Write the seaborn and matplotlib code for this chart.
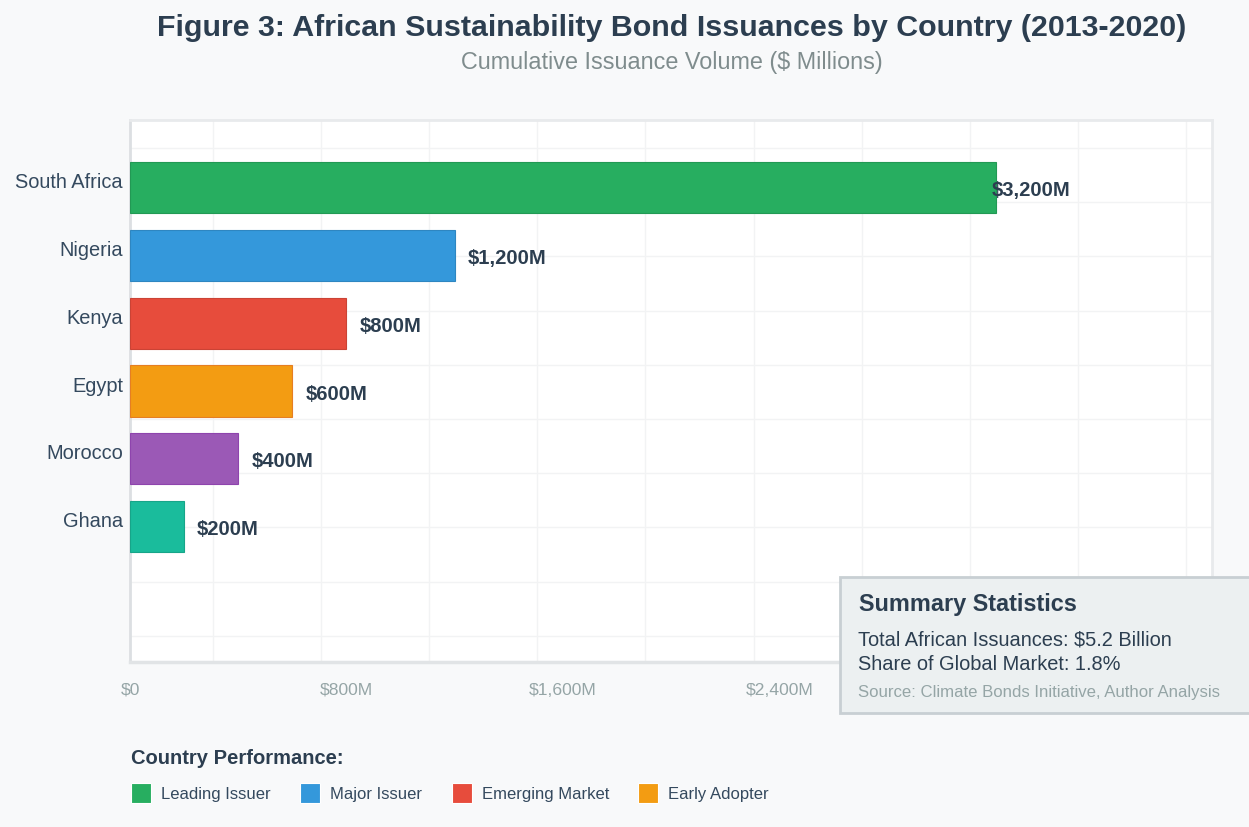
import matplotlib
matplotlib.use("Agg")
import matplotlib.pyplot as plt
import matplotlib.ticker as mticker
import matplotlib.transforms as mtransforms
from matplotlib.patches import Rectangle
import seaborn as sns
import pandas as pd

# ---- data ----
countries = ["South Africa", "Nigeria", "Kenya", "Egypt", "Morocco", "Ghana"]
volumes = [3200, 1200, 800, 600, 400, 200]
colors = ["#27ae60", "#3498db", "#e74c3c", "#f39c12", "#9b59b6", "#1abc9c"]
edge_colors = ["#229954", "#2e86c1", "#cb4335", "#e67e22", "#8e44ad", "#17a589"]
x_ticks = [0, 800, 1600, 2400]
legend_labels = ["Leading Issuer", "Major Issuer", "Emerging Market", "Early Adopter"]
legend_colors = ["#27ae60", "#3498db", "#e74c3c", "#f39c12"]
title = "Figure 3: African Sustainability Bond Issuances by Country (2013-2020)"
subtitle = "Cumulative Issuance Volume ($ Millions)"
summary_title = "Summary Statistics"
summary_lines = ["Total African Issuances: $5.2 Billion", "Share of Global Market: 1.8%"]
source = "Source: Climate Bonds Initiative, Author Analysis"

df = pd.DataFrame({"country": countries, "volume": volumes})

sns.set_theme(style="white")
plt.rcParams["font.family"] = ["Liberation Sans", "DejaVu Sans"]

W, H = 1249, 827
fig = plt.figure(figsize=(W / 100, H / 100), dpi=100, facecolor="#f8f9fa")

L, R, T, B = 130, 1212, 120, 662
ax = fig.add_axes([L / W, 1 - B / H, (R - L) / W, (B - T) / H])
ax.set_facecolor("white")

sns.barplot(data=df, y="country", x="volume", hue="country", palette=colors,
            orient="h", width=0.76, saturation=1, legend=False, ax=ax, zorder=3)
for patch, ec in zip(ax.patches, edge_colors):
    patch.set_edgecolor(ec)
    patch.set_linewidth(0.8)

ax.set_xlim(0, 4000)
ax.set_ylim(7, -1)

# grid (decorative)
ax.xaxis.set_minor_locator(mticker.FixedLocator([305 + 400 * k for k in range(10)]))
ax.yaxis.set_minor_locator(mticker.FixedLocator([-0.587 + 0.8 * k for k in range(10)]))
ax.grid(which="minor", color="#f2f3f4", linewidth=1.0, zorder=0)
ax.grid(which="major", visible=False)
ax.tick_params(which="minor", length=0)

ax.set_xticks(x_ticks)
ax.xaxis.set_major_formatter(mticker.FuncFormatter(
    lambda v, p: "$0" if v == 0 else f"${v:,.0f}M"))
ax.tick_params(axis="x", length=0, pad=15, labelsize=12.6, labelcolor="#95a5a6")
ax.tick_params(axis="y", length=0, pad=5, labelsize=14.4, labelcolor="#34495e")
ax.set_yticks(range(len(countries)))
ax.set_yticklabels(countries, va="center")
for lbl in ax.get_yticklabels():
    lbl.set_transform(lbl.get_transform() + mtransforms.ScaledTranslation(0, 5 / 100, fig.dpi_scale_trans))
ax.set_xlabel("")
ax.set_ylabel("")

for sp in ["top", "right"]:
    ax.spines[sp].set_color("#e8eaec")
    ax.spines[sp].set_linewidth(2)
ax.spines["left"].set_color("#dcdfe2")
ax.spines["left"].set_linewidth(2)
ax.spines["bottom"].set_color("#e1e4e6")
ax.spines["bottom"].set_linewidth(2.5)

# value labels
for i, v in enumerate(volumes):
    off = -4 if v >= 3000 else 13
    ax.annotate(f"${v:,.0f}M", xy=(v, i), xytext=(off, -3), textcoords="offset pixels",
                ha="left", va="center", fontsize=14.6, fontweight="bold",
                color="#2c3e50", zorder=5)

# titles
fig.text(672 / W, 1 - 28 / H, title, ha="center", va="center", fontsize=21.9,
         fontweight="bold", color="#2c3e50")
fig.text(672 / W, 1 - 63 / H, subtitle, ha="center", va="center", fontsize=16.8,
         color="#7f8c8d")

# summary box
bx0, by0, bx1, by1 = 840, 577, 1262, 713
fig.patches.append(Rectangle((bx0 / W, 1 - by1 / H), (bx1 - bx0) / W, (by1 - by0) / H,
                             transform=fig.transFigure, facecolor="#ecf0f1",
                             edgecolor="#c8cfd3", linewidth=2, zorder=10))
fig.text(859 / W, 1 - 605 / H, summary_title, ha="left", va="center", fontsize=16.9,
         fontweight="bold", color="#2c3e50", zorder=11)
for j, line in enumerate(summary_lines):
    fig.text(858 / W, 1 - (640 + 25 * j) / H, line, ha="left", va="center",
             fontsize=14.45, color="#2c3e50", zorder=11)
fig.text(858 / W, 1 - 692 / H, source, ha="left", va="center", fontsize=12.1,
         color="#95a5a6", zorder=11)

# legend
fig.text(131 / W, 1 - 759 / H, "Country Performance:", ha="left", va="center",
         fontsize=14.5, fontweight="bold", color="#2c3e50")
sw_x = [131, 300, 452, 638]
for x0, lab, c in zip(sw_x, legend_labels, legend_colors):
    fig.patches.append(Rectangle((x0 / W, 1 - 803 / H), 20 / W, 20 / H,
                                 transform=fig.transFigure, facecolor=c,
                                 edgecolor="white", linewidth=0.8))
    fig.text((x0 + 30) / W, 1 - 795 / H, lab, ha="left", va="center",
             fontsize=12, color="#34495e")

fig.savefig("out.png", dpi=100, facecolor=fig.get_facecolor())
